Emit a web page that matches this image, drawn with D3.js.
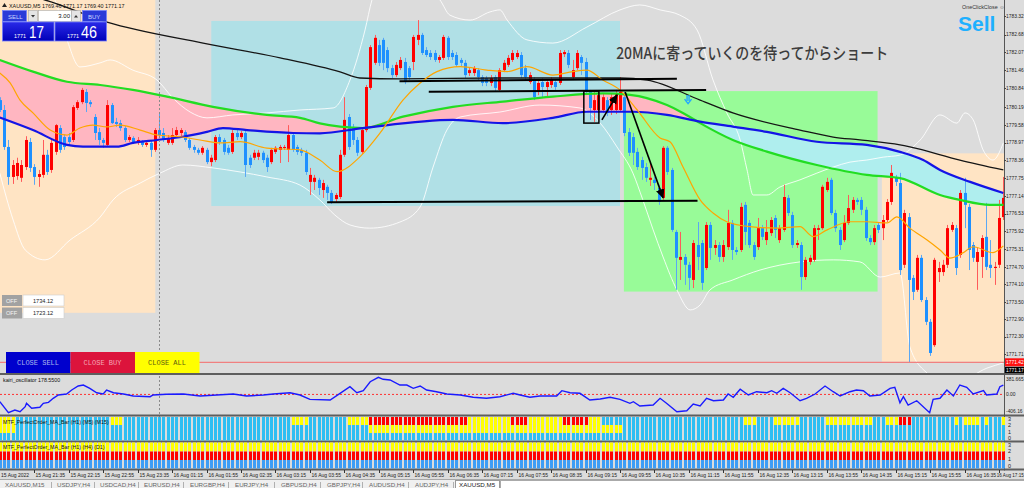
<!DOCTYPE html>
<html>
<head>
<meta charset="utf-8">
<script src="https://cdn.jsdelivr.net/npm/d3@7"></script>
<style>
html,body{margin:0;padding:0;background:#dcdcdc;overflow:hidden;}
svg{display:block;}
</style>
</head>
<body>
<svg id="chart" width="1024" height="488"></svg>
<script>
// ================= DATA =================
const ohlc = [
[1780.43,1780.53,1780.02,1780.09],[1780.09,1780.26,1778.72,1778.82],[1778.82,1779.06,1777.52,1777.79],[1777.79,1778.37,1777.55,1778.20],[1777.82,1778.45,1777.69,1778.27],
[1777.76,1778.37,1777.62,1778.20],[1778.13,1779.19,1778.03,1779.06],[1778.99,1779.13,1777.96,1778.10],[1778.13,1778.23,1777.52,1777.79],[1777.79,1778.03,1777.45,1777.89],
[1777.86,1779.06,1777.76,1778.55],[1778.55,1778.72,1777.86,1777.96],[1778.03,1779.06,1777.93,1778.96],[1778.65,1779.61,1778.55,1779.57],[1779.47,1779.57,1778.62,1778.72],
[1779.16,1779.26,1778.72,1778.82],[1779.16,1779.30,1778.89,1778.99],[1779.06,1780.26,1778.99,1780.19],[1780.16,1780.43,1780.09,1780.36],[1780.36,1780.85,1780.29,1780.78],
[1780.71,1780.81,1780.02,1780.33],[1780.36,1780.43,1780.19,1780.29],[1779.85,1779.95,1779.06,1779.30],[1779.33,1779.47,1778.89,1779.06],[1779.06,1779.13,1778.79,1778.96],
[1778.89,1780.43,1778.85,1780.26],[1780.26,1780.33,1779.61,1779.64],[1779.68,1779.82,1779.51,1779.61],[1779.64,1779.75,1779.37,1779.47],[1779.47,1779.54,1778.99,1779.06],
[1779.06,1779.23,1778.99,1779.16],[1779.13,1779.19,1778.92,1778.99],[1778.96,1779.16,1778.89,1779.06],[1778.99,1779.06,1778.82,1778.89],[1778.89,1779.03,1778.82,1778.96],
[1778.96,1779.06,1778.48,1778.72],[1778.72,1779.47,1778.65,1779.40],[1779.40,1779.99,1779.16,1779.23],[1779.30,1779.47,1778.99,1779.06],[1778.96,1779.23,1778.89,1779.13],
[1778.96,1779.47,1778.89,1779.23],[1779.23,1779.51,1779.16,1779.40],[1779.30,1779.47,1779.19,1779.40],[1779.33,1779.40,1778.99,1779.06],[1779.06,1779.13,1778.72,1778.79],
[1778.82,1778.89,1778.62,1778.72],[1778.72,1778.79,1778.55,1778.62],[1778.62,1778.85,1778.55,1778.79],[1778.72,1778.79,1778.23,1778.30],[1778.30,1778.55,1778.16,1778.45],
[1778.37,1779.23,1778.30,1779.16],[1779.16,1779.26,1778.89,1778.99],[1779.06,1779.13,1778.55,1778.65],[1778.79,1778.89,1778.55,1778.62],[1778.65,1779.40,1778.58,1779.30],
[1779.30,1779.40,1779.06,1779.16],[1779.16,1779.37,1779.09,1779.30],[1779.30,1779.37,1777.79,1778.20],[1778.45,1778.55,1778.10,1778.20],[1778.45,1778.72,1778.37,1778.62],
[1778.48,1778.72,1778.37,1778.62],[1778.62,1778.69,1778.27,1778.37],[1778.45,1778.55,1777.96,1778.13],[1778.30,1778.79,1778.23,1778.72],[1778.65,1778.85,1778.58,1778.79],
[1778.72,1778.89,1778.27,1778.82],[1778.79,1778.89,1778.72,1778.82],[1778.72,1779.57,1778.30,1779.23],[1779.23,1779.33,1778.65,1778.72],[1778.82,1778.89,1778.55,1778.65],
[1778.72,1778.79,1778.51,1778.62],[1778.62,1778.72,1777.86,1777.96],[1777.62,1778.10,1777.17,1777.86],[1777.62,1777.86,1777.34,1777.76],[1777.69,1777.76,1777.17,1777.41],
[1777.34,1777.69,1777.07,1777.58],[1777.45,1777.52,1777.00,1777.24],[1777.24,1777.34,1776.86,1776.93],[1777.03,1777.24,1776.90,1777.17],[1777.10,1778.72,1777.03,1778.55],
[1778.55,1780.53,1778.48,1779.75],[1779.85,1779.95,1778.72,1778.82],[1779.51,1779.61,1778.89,1779.06],[1779.06,1779.16,1778.51,1778.62],[1778.65,1779.47,1778.58,1779.40],
[1779.40,1780.95,1779.33,1780.88],[1780.85,1782.32,1780.78,1782.25],[1781.71,1782.67,1781.64,1782.57],[1782.32,1782.50,1781.60,1781.71],[1782.50,1782.57,1781.46,1781.71],
[1782.15,1782.25,1781.39,1781.53],[1781.53,1781.64,1781.19,1781.29],[1781.29,1781.74,1781.22,1781.64],[1781.53,1781.91,1781.46,1781.81],[1781.74,1781.88,1780.98,1781.05],
[1781.53,1781.60,1781.12,1781.22],[1781.74,1782.67,1781.46,1782.60],[1782.50,1783.18,1782.32,1782.67],[1782.67,1782.74,1781.98,1782.05],[1782.15,1782.25,1781.91,1781.98],
[1782.05,1782.15,1781.81,1781.91],[1782.05,1782.15,1781.74,1781.81],[1781.81,1781.98,1781.71,1781.91],[1781.88,1782.67,1781.81,1782.60],[1782.57,1782.63,1781.81,1781.91],
[1782.05,1782.15,1781.81,1781.91],[1781.98,1782.08,1781.57,1781.64],[1781.81,1781.88,1781.60,1781.71],[1781.71,1781.81,1781.19,1781.29],[1781.36,1781.53,1781.26,1781.46],
[1781.36,1781.60,1781.26,1781.53],[1781.46,1781.53,1781.12,1781.22],[1781.22,1781.29,1780.91,1781.02],[1781.19,1781.26,1780.91,1781.02],[1781.02,1781.29,1780.91,1781.19],
[1781.22,1781.29,1780.74,1780.85],[1780.78,1781.53,1780.71,1781.46],[1781.46,1781.81,1781.39,1781.71],[1781.64,1781.98,1781.57,1781.88],[1781.81,1782.15,1781.74,1782.05],
[1781.91,1782.15,1781.84,1782.05],[1781.98,1782.08,1781.19,1781.29],[1781.53,1781.64,1781.12,1781.22],[1781.05,1781.39,1780.98,1781.29],[1781.12,1781.22,1780.43,1780.53],
[1780.71,1781.12,1780.60,1781.02],[1781.05,1781.19,1780.53,1780.88],[1780.88,1781.15,1780.53,1781.05],[1780.95,1781.22,1780.85,1781.12],[1781.05,1781.15,1780.78,1780.88],
[1781.02,1782.15,1780.95,1782.05],[1782.01,1782.15,1781.91,1782.08],[1782.05,1782.15,1781.53,1781.64],[1781.22,1781.81,1781.12,1781.46],[1781.53,1782.15,1781.46,1782.05],
[1781.91,1781.98,1781.29,1781.71],[1781.74,1781.88,1780.60,1780.71],[1780.71,1780.78,1779.75,1780.16],[1780.09,1780.71,1779.68,1780.43],[1780.09,1780.71,1779.99,1780.60],
[1780.09,1780.64,1779.99,1780.53],[1780.43,1780.53,1779.88,1779.99],[1780.09,1780.64,1779.92,1780.53],[1780.09,1780.78,1779.95,1780.67],[1780.09,1781.22,1780.02,1780.71],
[1780.53,1780.71,1779.19,1779.30],[1779.33,1779.47,1778.51,1778.62],[1779.16,1779.30,1778.20,1778.62],[1778.65,1778.79,1778.03,1778.13],[1778.37,1778.48,1777.69,1778.10],
[1778.13,1778.27,1777.62,1777.76],[1777.69,1778.27,1777.48,1777.76],[1777.69,1777.79,1777.34,1777.58],[1777.41,1777.52,1776.83,1776.93],[1777.07,1778.85,1777.00,1778.79],
[1778.79,1778.85,1777.86,1777.96],[1778.03,1778.10,1775.90,1775.97],[1775.90,1775.97,1773.91,1775.01],[1774.94,1775.90,1774.25,1775.04],[1775.04,1775.14,1774.08,1774.77],
[1774.77,1774.87,1773.91,1774.32],[1774.25,1775.62,1773.97,1775.52],[1775.45,1776.24,1774.59,1775.04],[1775.52,1775.62,1773.91,1774.15],[1774.66,1776.24,1774.59,1776.14],
[1776.14,1776.24,1774.94,1775.35],[1775.35,1775.62,1775.11,1775.45],[1775.45,1775.55,1774.87,1775.04],[1775.04,1775.62,1774.87,1775.45],[1775.38,1776.66,1775.28,1776.21],
[1776.21,1776.31,1774.94,1775.28],[1775.28,1775.38,1775.11,1775.21],[1775.28,1776.90,1775.21,1776.76],[1776.83,1776.93,1775.45,1775.90],[1776.21,1776.31,1775.35,1775.45],
[1775.45,1775.55,1774.94,1775.04],[1775.38,1776.38,1775.28,1776.03],[1776.03,1776.14,1775.62,1775.73],[1775.62,1776.31,1775.45,1775.90],[1775.86,1776.41,1775.76,1776.31],
[1776.38,1776.48,1775.69,1775.97],[1775.62,1776.14,1775.52,1776.03],[1775.97,1777.52,1775.90,1777.10],[1777.07,1777.17,1776.45,1776.55],[1776.48,1776.59,1775.35,1775.45],
[1775.45,1775.62,1775.35,1775.52],[1775.45,1775.55,1773.91,1774.35],[1774.35,1775.04,1774.25,1774.94],[1774.87,1775.11,1774.77,1775.01],[1774.94,1776.14,1774.87,1776.03],
[1775.97,1776.14,1775.62,1776.03],[1776.03,1777.52,1775.97,1777.45],[1777.34,1777.76,1777.27,1777.62],[1777.69,1777.76,1776.48,1776.55],[1776.55,1776.66,1775.90,1776.03],
[1775.97,1776.07,1775.28,1775.45],[1775.62,1776.48,1775.55,1776.21],[1776.21,1777.17,1776.14,1776.72],[1776.66,1777.10,1776.55,1777.00],[1777.00,1777.07,1776.83,1776.93],
[1777.00,1777.10,1776.48,1776.66],[1776.66,1776.76,1775.59,1775.69],[1775.69,1775.79,1775.45,1775.55],[1775.55,1776.14,1775.45,1776.03],[1776.14,1776.24,1775.86,1775.97],
[1776.03,1776.48,1775.62,1776.31],[1776.31,1777.03,1776.24,1776.93],[1776.93,1778.20,1776.83,1777.93],[1777.76,1777.86,1777.48,1777.62],[1777.58,1777.93,1774.42,1774.59],
[1774.77,1776.66,1774.66,1776.55],[1776.41,1776.55,1771.43,1774.25],[1774.32,1774.42,1773.56,1773.84],[1773.91,1775.11,1773.84,1775.01],[1775.01,1775.11,1773.49,1773.56],
[1773.56,1773.66,1772.70,1772.81],[1772.81,1772.91,1771.64,1771.74],[1772.01,1775.01,1771.95,1774.94],[1774.52,1774.87,1774.18,1774.66],[1774.52,1774.94,1774.39,1774.77],
[1774.77,1776.14,1774.66,1776.03],[1775.97,1776.24,1775.90,1776.14],[1776.03,1776.14,1774.42,1774.66],[1775.11,1777.34,1775.01,1777.24],[1777.24,1777.76,1776.03,1776.83],
[1776.76,1776.86,1774.59,1775.28],[1775.45,1775.55,1774.87,1775.01],[1774.87,1775.35,1773.91,1775.21],[1775.04,1775.79,1774.32,1775.69],[1775.73,1776.90,1774.59,1774.70],
[1774.77,1775.62,1774.32,1774.66],[1774.66,1774.87,1774.08,1774.70],[1774.77,1777.00,1774.66,1776.38],[1776.41,1777.79,1776.31,1777.07]
];

const timeLabels = ["15 Aug 2022","15 Aug 21:35","15 Aug 22:15","15 Aug 22:55","15 Aug 23:35","16 Aug 01:15","16 Aug 01:55","16 Aug 02:35","16 Aug 03:15","16 Aug 03:55","16 Aug 04:35","16 Aug 05:15","16 Aug 05:55","16 Aug 06:35","16 Aug 07:15","16 Aug 07:55","16 Aug 08:35","16 Aug 09:15","16 Aug 09:55","16 Aug 10:35","16 Aug 11:15","16 Aug 11:55","16 Aug 12:35","16 Aug 13:15","16 Aug 13:55","16 Aug 14:35","16 Aug 15:15","16 Aug 15:55","16 Aug 16:35","16 Aug 17:15"];
const labelStep = 8;
const daySeparatorBar = 37;

const priceTicks = [1783.32,1782.68,1782.07,1781.46,1780.84,1780.19,1779.58,1778.97,1778.36,1777.75,1777.14,1776.53,1775.92,1775.31,1774.70,1774.10,1773.50,1772.90,1772.30,1771.71];

const maBlack = [[0,1784.21],[10.5,1783.87],[24.9,1783.11],[47.2,1782.39],[65.1,1781.88],[79.0,1781.40],[83.6,1781.19],[92.9,1781.16],[116.1,1781.19],[144.0,1781.19],[150.3,1781.12],[162.6,1780.43],[170.2,1779.99],[185.8,1779.40],[193.5,1779.16],[199.7,1779.06],[209.0,1778.89],[211.3,1778.82],[222.9,1778.37],[233,1778.03]];
const maBlue = [[0,1779.83],[7.7,1779.40],[15.6,1778.89],[19.3,1778.83],[27.2,1778.83],[30.9,1778.96],[36.5,1779.06],[42.5,1779.17],[48.1,1779.34],[51.8,1779.47],[57.4,1779.40],[68.1,1779.30],[74.3,1779.29],[84.3,1779.47],[105.2,1779.75],[116.8,1779.64],[128.4,1779.82],[136.3,1780.03],[144.0,1780.03],[147.0,1780.03],[154.9,1779.92],[162.6,1779.69],[170.2,1779.52],[178.1,1779.34],[189.7,1779.00],[201.3,1778.89],[209.0,1778.65],[214.4,1778.37],[218.3,1778.03],[225.3,1777.62],[233,1777.24]];
const maGreen = [[0,1781.81],[7.7,1781.41],[15.6,1781.06],[23.3,1780.95],[30.9,1780.78],[38.8,1780.55],[49.5,1780.20],[62.0,1779.92],[69.7,1779.82],[74.3,1779.63],[79.0,1779.52],[84.3,1779.47],[93.6,1779.86],[105.2,1780.20],[116.8,1780.38],[128.4,1780.55],[140.0,1780.66],[146.3,1780.61],[154.9,1780.26],[158.6,1779.99],[162.6,1779.64],[170.2,1779.06],[178.1,1778.66],[189.7,1778.20],[201.3,1777.86],[209.0,1777.75],[218.3,1777.17],[222.9,1777.00],[229.9,1776.83],[233,1776.83]];
const maOrange = [[0,1781.36],[2.4,1781.02],[4.7,1780.43],[7.7,1779.99],[11.7,1779.40],[15.6,1779.23],[18.6,1779.47],[21.6,1779.57],[24.9,1779.51],[27.9,1779.57],[32.6,1779.40],[36.5,1779.23],[41.8,1779.17],[46.5,1779.06],[51.1,1778.96],[55.8,1779.00],[62.0,1778.78],[69.7,1778.72],[74.3,1778.37],[78.3,1777.97],[83.6,1778.48],[88.3,1779.30],[93.6,1780.43],[97.6,1781.02],[101.5,1781.41],[106.9,1781.58],[113.1,1781.46],[117.8,1781.41],[122.4,1781.58],[128.4,1781.29],[133.1,1781.41],[136.3,1781.46],[140.0,1781.12],[144.0,1780.78],[148.0,1780.09],[153.3,1779.13],[155.6,1779.00],[158.6,1778.14],[162.6,1777.00],[165.6,1776.55],[168.8,1776.25],[174.2,1776.08],[180.5,1776.03],[185.8,1776.08],[188.8,1775.74],[192.1,1775.97],[197.4,1776.25],[201.3,1776.25],[206.0,1776.21],[208.3,1776.42],[211.3,1776.03],[215.3,1775.62],[218.3,1775.28],[220.6,1775.00],[223.6,1775.18],[226.0,1775.39],[230.6,1775.19],[233,1775.42]];
const bbUpper = [[0,1785.93],[7.0,1784.90],[12.8,1783.87],[15.6,1782.50],[18.6,1781.57],[23.3,1781.71],[25.6,1781.81],[30.9,1781.46],[36.5,1781.12],[40.2,1780.50],[44.2,1780.02],[48.1,1779.82],[54.1,1779.92],[62.0,1779.99],[69.7,1780.09],[77.4,1780.16],[81.3,1781.12],[84.8,1782.84],[86.4,1783.87],[88.3,1784.56],[97.6,1784.39],[102.2,1783.87],[104.5,1783.35],[109.2,1783.18],[113.8,1783.46],[116.1,1783.53],[117.8,1783.18],[122.4,1782.50],[128.4,1782.39],[136.3,1782.94],[144.0,1783.53],[148.6,1783.70],[153.3,1783.53],[157.9,1783.35],[161.9,1782.84],[165.6,1781.12],[168.8,1779.99],[171.9,1779.06],[173.5,1778.03],[174.9,1777.17],[178.1,1777.17],[181.1,1777.44],[185.8,1777.69],[189.7,1777.92],[193.5,1778.13],[197.4,1778.30],[201.3,1778.37],[205.1,1778.47],[209.0,1778.54],[213.7,1779.06],[218.3,1779.92],[222.2,1779.64],[224.1,1779.99],[226.0,1779.75],[228.3,1778.72],[230.6,1778.37],[233,1778.96]];
const bbLower = [[0,1777.92],[3.1,1776.31],[5.9,1775.28],[10.5,1774.94],[16.3,1775.62],[23.3,1776.41],[26.3,1777.00],[32.6,1777.58],[37.2,1777.92],[42.5,1778.20],[49.5,1778.10],[55.8,1777.96],[62.0,1777.79],[69.7,1777.51],[74.3,1777.00],[77.8,1776.48],[81.3,1776.14],[85.9,1776.03],[92.9,1776.24],[97.6,1776.76],[100.6,1778.13],[103.8,1779.40],[106.9,1779.85],[116.1,1780.02],[125.4,1780.26],[134.7,1780.16],[139.4,1779.64],[143.3,1778.82],[147.0,1777.92],[149.3,1777.00],[151.7,1775.97],[154.0,1775.04],[157.2,1773.91],[160.3,1773.22],[162.6,1773.39],[164.9,1773.91],[170.2,1774.25],[176.5,1774.59],[185.8,1774.87],[193.5,1774.94],[199.7,1774.87],[204.4,1774.35],[209.0,1774.49],[211.3,1771.95],[215.3,1771.05],[218.3,1770.81],[222.9,1770.81],[229.2,1771.22],[233,1771.40]];

const oscBars = [0,2.0,3.5,4.7,5.9,6.2,7.4,9.3,10.1,11.3,12.4,13.6,15.5,16.7,18.2,19.4,20.9,22.5,24.0,24.8,26.4,28.7,31.0,34.9,35.6,38.7,42.6,46.5,50.4,54.2,57.3,61.2,63.5,67.4,69.7,72.0,76.7,79.0,81.3,82.9,84.4,86.0,87.9,89.0,90.6,92.9,94.5,96.0,97.6,99.1,101.4,103.8,106.9,109.9,113.0,116.1,119.2,120.8,123.1,125.4,129.3,130.5,132.4,134.7,137.0,139.4,141.7,144.0,146.3,147.1,148.6,151.7,153.3,154.8,157.2,159.5,161.0,162.6,164.1,165.7,168.0,169.1,170.3,171.9,173.8,175.7,178.1,179.2,180.4,181.9,183.5,185.8,187.3,189.3,191.6,193.5,195.1,197.4,198.9,200.5,202.0,204.4,206.7,207.8,209.0,209.8,210.9,212.9,215.9,216.7,218.3,219.9,221.4,222.9,224.5,226.0,228.4,229.1,231.5,232.2,233.0];
const oscValues = [-151,-379,-323,-359,-255,-184,-288,-267,-184,-164,-81,-12,8,91,174,195,126,35,8,91,35,8,-33,-48,-12,2,8,-33,-12,8,-33,-12,8,35,-12,-102,-116,23,160,35,77,263,354,313,299,195,195,126,174,91,56,8,-12,-60,-81,-48,23,-12,-60,-33,-33,77,35,23,-116,-95,-60,-102,-184,-151,-240,-220,-81,-184,-359,-338,-199,-240,-81,-131,-116,8,-60,106,-12,56,35,77,23,126,35,-131,-81,8,174,56,-33,56,91,77,-33,-12,126,147,-172,-48,-220,-131,-379,-102,-81,91,-33,195,147,8,77,-12,8,160,195];
const oscRange = [381.665, -406.16];
const oscCurrent = "178.5500";

// MTF bars: run-length states per bar (Y=yellow, R=red, B=blue)
const mtf1TopRuns = [["Y",4],["B",22],["Y",3],["B",39],["Y",4],["B",9],["Y",5],["R",23],["Y",10],["R",4],["Y",8],["R",6],["Y",3],["B",33],["Y",3],["B",4],["Y",6],["B",6],["Y",11],["B",3],["Y",3],["R",3],["B",10],["Y",1],["B",1],["Y",4],["B",1],["Y",1],["B",3],["Y",1]];
const mtf1MidRuns = [["Y",4],["B",82],["Y",59],["B",89]];
const mtf1BotRuns = [["B",234]];
const mtf2TopRuns = [["Y",234]];
const mtf2MidRuns = [["R",234]];
const mtf2BotRuns = [["B",234]];

// rectangles (bar index from/to, price top/bottom)
const zoneBars = [[-1,36.1],[49.1,144.0],[144.9,203.8],[204.8,240]];
const zonePrices = [[1784.2,1773.12],[1783.15,1776.79],[1780.74,1773.85],[1778.60,1771.44]];
// drawn trend lines [bar0, price0, bar1, price1]
const trendLines = [[92.8,1781.08,157.2,1781.16],[99.6,1780.72,164.0,1780.78],[76.0,1776.92,162.0,1776.97]];
const markBox = [135.6,1780.74,139.1,1779.64];
const arrowLines = [[139.8,1779.75,143.3,1780.61],[145.2,1780.71,154.0,1777.07]];
const sellSignal = [159.8,1780.43];
const bidPrice = 1771.42, askPrice = 1771.17;
const noteText = "20MAに寄っていくのを待ってからショート";
const noteAnchor = [143.1,1781.85];
const tabNames = ["XAUUSD,M15","USDJPY,H4","USDCAD,H4","EURUSD,H4","EURGBP,H4","EURJPY,H4","GBPUSD,H4","GBPJPY,H4","AUDUSD,H4","AUDJPY,H4","XAUUSD,M5"];
const lineLevels = ["1734.12","1723.12"];
const headerText = "XAUUSD,M5  1769.46 1771.17 1769.40 1771.17";

// ================= DRAW =================
const SM = "'Liberation Sans', Arial, sans-serif";
const svg = d3.select("#chart");
const defs = svg.append("defs");
const PR = 1004, MB = 373;
const AXF = 4.9;  // axis label font size

const x = d3.scaleLinear().domain([0,233]).range([-0.2,1003.33]);
const y = d3.scaleLinear().domain([1783.87,1771.0]).range([0,374.52]);

svg.append("rect").attr("width",1024).attr("height",488).attr("fill","#dcdcdc");

defs.append("clipPath").attr("id","mainClip").append("rect").attr("x",0).attr("y",0).attr("width",PR).attr("height",MB);
defs.append("clipPath").attr("id","oscClip").append("rect").attr("x",0).attr("y",375).attr("width",PR).attr("height",40);
const mk = defs.append("marker").attr("id","arr").attr("viewBox","0 0 10 10").attr("refX",9).attr("refY",5)
  .attr("markerWidth",6).attr("markerHeight",6).attr("orient","auto");
mk.append("path").attr("d","M0,0.5 L10,5 L0,9.5 Z").attr("fill","#000");

const main = svg.append("g").attr("clip-path","url(#mainClip)");
const zoneColors = ["#ffe4c4","#b0e0e6","#98fb98","#ffe4c4"];
zoneBars.forEach((b,k)=>{
  const p = zonePrices[k];
  main.append("rect").attr("x",x(b[0])).attr("y",y(p[0])).attr("width",x(b[1])-x(b[0]))
    .attr("height",y(p[1])-y(p[0])).attr("fill",zoneColors[k]);
});

function interp(arr,t){
  if(t<=arr[0][0]) return arr[0][1];
  if(t>=arr[arr.length-1][0]) return arr[arr.length-1][1];
  const k = d3.bisector(d=>d[0]).right(arr,t);
  const a=arr[k-1], b=arr[k];
  return a[1]+(b[1]-a[1])*(t-a[0])/(b[0]-a[0]);
}
const grid = d3.range(0,233.001,0.25);
const pinkArea = d3.area().x(t=>x(t)).y0(t=>y(interp(maBlue,t))).y1(t=>Math.min(y(interp(maGreen,t)),y(interp(maBlue,t))));
const cyanArea = d3.area().x(t=>x(t)).y0(t=>y(interp(maGreen,t))).y1(t=>Math.min(y(interp(maBlue,t)),y(interp(maGreen,t))));
main.append("path").datum(grid).attr("d",pinkArea).attr("fill","#ffb6c1");
main.append("path").datum(grid).attr("d",cyanArea).attr("fill","#afeeee");

const line = d3.line().x(d=>x(d[0])).y(d=>y(d[1])).curve(d3.curveMonotoneX);
[bbUpper,bbLower].forEach(b=>{
  main.append("path").datum(b).attr("d",line).attr("fill","none").attr("stroke","#ffffff").attr("stroke-width",1).attr("opacity",0.85);
});

// day separator
svg.append("line").attr("x1",Math.round(x(daySeparatorBar))+0.5).attr("x2",Math.round(x(daySeparatorBar))+0.5)
  .attr("y1",0).attr("y2",470).attr("stroke","#8a8a8a").attr("stroke-dasharray","2,2").attr("stroke-width",1);

// candles
const cg = main.append("g");
cg.selectAll("line.w").data(ohlc).join("line").attr("class","w")
  .attr("x1",(d,i)=>Math.round(x(i))+0.5).attr("x2",(d,i)=>Math.round(x(i))+0.5)
  .attr("y1",d=>y(d[1])).attr("y2",d=>y(d[2]))
  .attr("stroke",d=>d[3]>=d[0]?"#ff5a5a":"#5aa8f5").attr("stroke-width",1);
cg.selectAll("rect.b").data(ohlc).join("rect").attr("class","b")
  .attr("x",(d,i)=>Math.round(x(i))-1).attr("width",3)
  .attr("y",d=>y(Math.max(d[0],d[3])))
  .attr("height",d=>Math.max(1,Math.abs(y(d[0])-y(d[3]))))
  .attr("fill",d=>d[3]>=d[0]?"#ff0000":"#1e90ff");

// moving averages
main.append("path").datum(maBlack).attr("d",line).attr("fill","none").attr("stroke","#151515").attr("stroke-width",1.3);
main.append("path").datum(maGreen).attr("d",line).attr("fill","none").attr("stroke","#22dd22").attr("stroke-width",2.2);
main.append("path").datum(maBlue).attr("d",line).attr("fill","none").attr("stroke","#1414e6").attr("stroke-width",2.2);
main.append("path").datum(maOrange).attr("d",line).attr("fill","none").attr("stroke","#ffa500").attr("stroke-width",1.2);

// bid line
main.append("line").attr("x1",0).attr("x2",PR).attr("y1",y(bidPrice)).attr("y2",y(bidPrice)).attr("stroke","#f08080").attr("stroke-width",1.3);

// drawn objects
trendLines.forEach(t=>{
  main.append("line").attr("x1",x(t[0])).attr("y1",y(t[1])).attr("x2",x(t[2])).attr("y2",y(t[3]))
    .attr("stroke","#000").attr("stroke-width",2);
});
main.append("rect").attr("x",x(markBox[0])).attr("y",y(markBox[1])).attr("width",x(markBox[2])-x(markBox[0]))
  .attr("height",y(markBox[3])-y(markBox[1])).attr("fill","none").attr("stroke","#000").attr("stroke-width",1.5);
arrowLines.forEach(t=>{
  main.append("line").attr("x1",x(t[0])).attr("y1",y(t[1])).attr("x2",x(t[2])).attr("y2",y(t[3]))
    .attr("stroke","#000").attr("stroke-width",1.6).attr("marker-end","url(#arr)");
});
{
  const sx=x(sellSignal[0]), sy=y(sellSignal[1]);
  const g=main.append("g").attr("transform",`translate(${sx},${sy})`).attr("stroke","#22a8ff").attr("stroke-width",1.4).attr("fill","none");
  g.append("line").attr("x1",-1).attr("x2",-1).attr("y1",-5).attr("y2",1);
  g.append("line").attr("x1",1).attr("x2",1).attr("y1",-5).attr("y2",1);
  g.append("path").attr("d","M-3.5,-1 L0,3.5 L3.5,-1");
}

// note text
svg.append("text").attr("x",x(noteAnchor[0])).attr("y",y(noteAnchor[1])).text(noteText)
  .attr("font-family","'Noto Sans CJK JP', sans-serif").attr("font-size",16).attr("font-weight",500)
  .attr("fill","#3c3c3c").attr("textLength",272).attr("lengthAdjust","spacingAndGlyphs");

// Sell / OneClickClose
svg.append("text").attr("x",958).attr("y",31).text("Sell").attr("font-family",SM).attr("font-weight","bold")
  .attr("font-size",21).attr("fill","#1eb0ff");
svg.append("text").attr("x",962).attr("y",8.5).text("OneClickClose ☺").attr("font-family",SM).attr("font-size",5.4).attr("fill","#333");

// ---- panels frames ----
const seps = [374, 415.5, 441.5, 469.5];
seps.forEach(s=>svg.append("line").attr("x1",0).attr("x2",1024).attr("y1",s).attr("y2",s).attr("stroke","#5e5e5e").attr("stroke-width",2));
svg.append("line").attr("x1",PR+0.5).attr("x2",PR+0.5).attr("y1",0).attr("y2",470.5).attr("stroke","#555").attr("stroke-width",1);

// price axis
const ax = svg.append("g").attr("font-family",SM).attr("font-size",AXF).attr("fill","#222");
priceTicks.forEach(p=>{
  ax.append("line").attr("x1",PR).attr("x2",PR+2).attr("y1",Math.round(y(p))+0.5).attr("y2",Math.round(y(p))+0.5).attr("stroke","#444");
  ax.append("text").attr("x",1006).attr("y",y(p)+1.8).text(p.toFixed(2));
});
svg.append("rect").attr("x",PR+1).attr("y",y(bidPrice)-4).attr("width",20).attr("height",8).attr("fill","#ff1010");
svg.append("text").attr("x",1006).attr("y",y(bidPrice)+1.9).text(bidPrice.toFixed(2)).attr("font-family",SM).attr("font-size",AXF).attr("fill","#fff");
svg.append("rect").attr("x",PR+1).attr("y",y(bidPrice)+4.5).attr("width",20).attr("height",MB-(y(bidPrice)+4.5)).attr("fill","#000");
svg.append("text").attr("x",1006).attr("y",y(bidPrice)+9.8).text(askPrice.toFixed(2)).attr("font-family",SM).attr("font-size",AXF).attr("fill","#fff");

// ---- oscillator ----
const yo = d3.scaleLinear().domain(oscRange).range([376,414]);
const og = svg.append("g").attr("clip-path","url(#oscClip)");
og.append("line").attr("x1",0).attr("x2",PR).attr("y1",yo(0)).attr("y2",yo(0)).attr("stroke","#ff3030").attr("stroke-dasharray","2,2").attr("stroke-width",1);
const oscData = oscBars.map((b,k)=>[b,oscValues[k]]);
og.append("path").datum(oscData).attr("d",d3.line().x(d=>x(d[0])).y(d=>yo(d[1]))).attr("fill","none").attr("stroke","#1a1aff").attr("stroke-width",1.4);
svg.append("text").attr("x",3).attr("y",382).text("kairi_oscillator "+oscCurrent).attr("font-family",SM).attr("font-size",5.3).attr("fill","#111");
const oa = svg.append("g").attr("font-family",SM).attr("font-size",AXF).attr("fill","#222");
oa.append("text").attr("x",1006).attr("y",381.2).text(oscRange[0].toString());
oa.append("text").attr("x",1006).attr("y",yo(0)+1.8).text("0.00");
oa.append("text").attr("x",1006).attr("y",413).text(oscRange[1].toFixed(2));

// ---- MTF panels ----
function expand(runs){ const out=[]; runs.forEach(r=>{for(let k=0;k<r[1];k++) out.push(r[0]);}); return out; }
const colMap1 = {Y:"#ffff00",R:"#ff0000",B:"#2ebef2"};
const colMap2 = {Y:"#ffff00",R:"#ff0000",B:"#3d9df5"};
function drawRow(states,y0,y1,cmap){
  svg.append("g").selectAll("rect").data(states).join("rect")
    .attr("x",(d,i)=>Math.round(x(i))-1).attr("width",3).attr("y",y0).attr("height",y1-y0)
    .attr("fill",d=>cmap[d]);
}
drawRow(expand(mtf1TopRuns),417,425,colMap1);
drawRow(expand(mtf1MidRuns),425,433,colMap1);
drawRow(expand(mtf1BotRuns),433,440.5,colMap1);
drawRow(expand(mtf2TopRuns),442.5,451.5,colMap2);
drawRow(expand(mtf2MidRuns),451.5,460,colMap2);
drawRow(expand(mtf2BotRuns),460,468.5,colMap2);
svg.append("text").attr("x",3).attr("y",423.5).text("MTF_PerfectOrder_MA_Bar (H1) (M5) (M15)").attr("font-family",SM).attr("font-size",5.3).attr("fill","#111");
svg.append("text").attr("x",3).attr("y",449).text("MTF_PerfectOrder_MA_Bar (H1) (H4) (D1)").attr("font-family",SM).attr("font-size",5.3).attr("fill","#111");
const lvl = svg.append("g").attr("font-family",SM).attr("font-size",5.4).attr("fill","#222");
[["3",421],["2",427],["1",434],["0",439.5],["3",446.5],["2",453],["1",461],["0",467.5]].forEach(l=>lvl.append("text").attr("x",1008).attr("y",l[1]).text(l[0]));

// ---- time axis ----
const ta = svg.append("g").attr("font-family",SM).attr("font-size",5.0).attr("fill","#222");
timeLabels.forEach((t,k)=>{
  const bi = k*labelStep; const tx = Math.round(x(bi))+0.5;
  if(k>0) ta.append("line").attr("x1",tx).attr("x2",tx).attr("y1",470).attr("y2",473).attr("stroke","#333");
  const tt = ta.append("text").attr("y",476.8).text(t);
  if(k===0) tt.attr("x",1);
  else if(tx+31>1024) tt.attr("x",1023.8).attr("text-anchor","end").attr("font-size",4.6);
  else tt.attr("x",tx+1);
});

// ---- tabs ----
svg.append("rect").attr("x",0).attr("y",479).attr("width",1024).attr("height",9).attr("fill","#f0f0f0");
svg.append("line").attr("x1",0).attr("x2",1024).attr("y1",479.5).attr("y2",479.5).attr("stroke","#a8a8a8");
const tabX = [5,57,100,144,190,235,281,327,369,415,459];
const sepX = [51,94,138,183,228,274,320,362,408,453];
sepX.forEach(s=>svg.append("line").attr("x1",s+0.5).attr("x2",s+0.5).attr("y1",482).attr("y2",488).attr("stroke","#b0b0b0"));
svg.append("rect").attr("x",455.5).attr("y",480.5).attr("width",44).attr("height",9).attr("fill","#fff").attr("stroke","#999");
svg.append("rect").attr("x",500.5).attr("y",480.5).attr("width",530).attr("height",9).attr("fill","#fff").attr("stroke","#aaa");
tabNames.forEach((t,k)=>svg.append("text").attr("x",tabX[k]).attr("y",487.3).text(t).attr("font-family",SM).attr("font-size",6.2).attr("fill",k===tabNames.length-1?"#222":"#666"));

// ---- trading panel (top-left) ----
const ui = svg.append("g").attr("font-family",SM);
ui.append("path").attr("d","M2,7 L4.5,3 L7,7 Z").attr("fill","#222");
ui.append("text").attr("x",9).attr("y",7.5).text(headerText).attr("font-size",5.4).attr("fill","#111");
const grad = defs.append("linearGradient").attr("id","bg").attr("x1",0).attr("y1",0).attr("x2",0).attr("y2",1);
grad.append("stop").attr("offset","0").attr("stop-color","#2a2ae8");
grad.append("stop").attr("offset","1").attr("stop-color","#0000b8");
ui.append("rect").attr("x",2.5).attr("y",10.5).attr("width",24).attr("height",11).attr("fill","#2a3ad8").attr("stroke","#7080ff").attr("stroke-width",0.7);
ui.append("text").attr("x",8).attr("y",18.5).text("SELL").attr("font-size",6).attr("fill","#cdd4ff");
ui.append("rect").attr("x",28.5).attr("y",10.5).attr("width",9).attr("height",11).attr("fill","#e4e4e4").attr("stroke","#aaa").attr("stroke-width",0.6);
ui.append("path").attr("d","M31,15 L33,17.5 L35,15 Z").attr("fill","#333");
ui.append("rect").attr("x",38.5).attr("y",10.5).attr("width",33).attr("height",11).attr("fill","#fff").attr("stroke","#aaa").attr("stroke-width",0.6);
ui.append("text").attr("x",70).attr("y",18.3).attr("text-anchor","end").text("3.00").attr("font-size",6).attr("fill","#111");
ui.append("rect").attr("x",71.5).attr("y",10.5).attr("width",9).attr("height",11).attr("fill","#e4e4e4").attr("stroke","#aaa").attr("stroke-width",0.6);
ui.append("path").attr("d","M74,17.5 L76,15 L78,17.5 Z").attr("fill","#333");
ui.append("rect").attr("x",82.5).attr("y",10.5).attr("width",24).attr("height",11).attr("fill","#2a3ad8").attr("stroke","#7080ff").attr("stroke-width",0.7);
ui.append("text").attr("x",88).attr("y",18.5).text("BUY").attr("font-size",6).attr("fill","#cdd4ff");
ui.append("rect").attr("x",2.5).attr("y",22).attr("width",51.5).attr("height",19).attr("fill","url(#bg)").attr("stroke","#6f7cff").attr("stroke-width",0.8);
ui.append("rect").attr("x",55).attr("y",22).attr("width",51.5).attr("height",19).attr("fill","url(#bg)").attr("stroke","#6f7cff").attr("stroke-width",0.8);
ui.append("text").attr("x",14).attr("y",38).text("1771").attr("font-size",5.4).attr("fill","#fff");
ui.append("text").attr("x",29).attr("y",37.5).text("17").attr("font-size",17).attr("fill","#fff").attr("textLength",15).attr("lengthAdjust","spacingAndGlyphs");
ui.append("text").attr("x",67).attr("y",38).text("1771").attr("font-size",5.4).attr("fill","#fff");
ui.append("text").attr("x",81).attr("y",37.5).text("46").attr("font-size",17).attr("fill","#fff").attr("textLength",16).attr("lengthAdjust","spacingAndGlyphs");

// OFF rows
lineLevels.forEach((v,k)=>{
  const yy = 295 + k*12.5;
  ui.append("rect").attr("x",2).attr("y",yy).attr("width",20).attr("height",11).attr("fill","#a2a2a2");
  ui.append("text").attr("x",6).attr("y",yy+7.8).text("OFF").attr("font-size",5.6).attr("fill","#f4f4f4");
  ui.append("rect").attr("x",23).attr("y",yy).attr("width",41).attr("height",11).attr("fill","#fff").attr("stroke","#ccc").attr("stroke-width",0.6);
  ui.append("text").attr("x",33).attr("y",yy+7.8).text(v).attr("font-size",5.6).attr("fill","#222");
});

// close buttons
const btns = [["CLOSE SELL","#0000cd","#aab6ee"],["CLOSE BUY","#dc143c","#f4a6b6"],["CLOSE ALL","#ffff00","#5d5d10"]];
btns.forEach((b,k)=>{
  const bx = 6 + k*64.5;
  ui.append("rect").attr("x",bx).attr("y",352).attr("width",64.5).attr("height",21).attr("fill",b[1]);
  ui.append("text").attr("x",bx+32).attr("y",365).attr("text-anchor","middle").text(b[0])
    .attr("font-family","'Liberation Mono', monospace").attr("font-size",7).attr("fill",b[2]);
});
</script>
</body>
</html>
